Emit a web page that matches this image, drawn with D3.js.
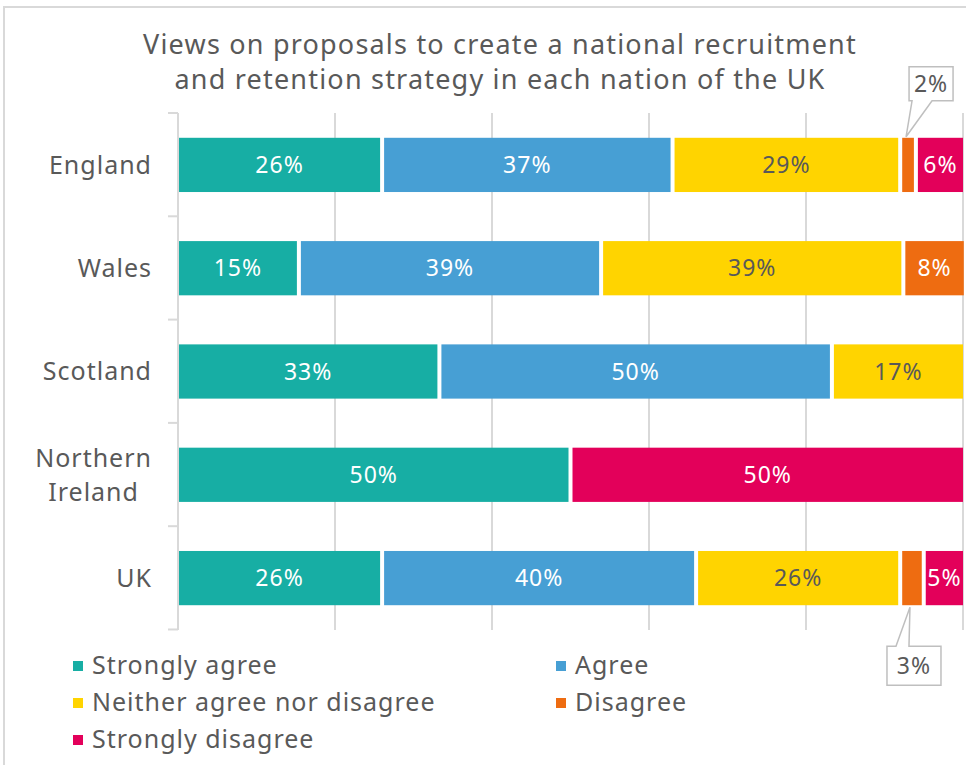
<!DOCTYPE html>
<html>
<head>
<meta charset="utf-8">
<script src="https://cdn.jsdelivr.net/npm/d3@7/dist/d3.min.js"></script>
<style>
  html, body { margin: 0; padding: 0; background: #fff; }
  svg { display: block; }
  text { font-family: "Noto Sans", "Open Sans", sans-serif; fill: #595959; letter-spacing: 1px; }
</style>
</head>
<body>
<svg id="chart" width="966" height="765"></svg>
<script>
// Survey responses (% of respondents) by nation
const nations = ["England", "Wales", "Scotland", "Northern Ireland", "UK"];
const responses = ["Strongly agree", "Agree", "Neither agree nor disagree", "Disagree", "Strongly disagree"];
const colors = ["#17AEA4", "#479FD4", "#FFD400", "#EE6C11", "#E3005A"];

const stronglyAgree    = [26, 15.4, 33.3, 50, 26];
const agree            = [37, 38.5, 50, 0, 40];
const neither          = [29, 38.5, 16.7, 0, 26];
const disagree         = [2, 7.7, 0, 0, 3];
const stronglyDisagree = [6, 0, 0, 50, 5];

const xTicks = [0, 20, 40, 60, 80, 100];
const titleLines = ["Views on proposals to create a national recruitment",
                    "and retention strategy in each nation of the UK"];

const series = [stronglyAgree, agree, neither, disagree, stronglyDisagree];
const rows = nations.map((n, i) => {
  const r = { nation: n };
  responses.forEach((k, j) => r[k] = series[j][i]);
  return r;
});

const svg = d3.select("#chart");
const W = 966, H = 765;

// outer frame
svg.append("rect").attr("x", 4).attr("y", 7).attr("width", W + 10).attr("height", H + 10)
  .attr("fill", "none").attr("stroke", "#d9d9d9").attr("stroke-width", 2);

// title, one text element per line
svg.append("g").selectAll("text").data(titleLines).join("text")
  .attr("text-anchor", "middle").attr("font-size", 27).style("letter-spacing", "1.2px")
  .attr("x", 500).attr("y", (d, i) => 54 + i * 35).text(d => d);

const x = d3.scaleLinear().domain([0, 100]).range([178, 963]);
const y = d3.scaleBand().domain(nations).range([113, 630]).paddingInner(0.475).paddingOuter(0.24);

// vertical gridlines
svg.append("g").selectAll("line").data(xTicks.slice(1)).join("line")
  .attr("x1", d => x(d)).attr("x2", d => x(d))
  .attr("y1", 113).attr("y2", 630)
  .attr("stroke", "#d9d9d9").attr("stroke-width", 2);

// category axis with ticks at band boundaries
const step = y.step();
const boundaries = d3.range(nations.length + 1).map(i => y.range()[0] + i * step);
const ax = svg.append("g");
ax.append("line").attr("x1", x(0)).attr("x2", x(0)).attr("y1", y.range()[0]).attr("y2", y.range()[1])
  .attr("stroke", "#d9d9d9").attr("stroke-width", 2);
ax.selectAll("line.tick").data(boundaries).join("line").attr("class", "tick")
  .attr("x1", x(0) - 10).attr("x2", x(0)).attr("y1", d => d).attr("y2", d => d)
  .attr("stroke", "#d9d9d9").attr("stroke-width", 2);

// category labels (multi-line labels centred on their widest line)
nations.forEach(n => {
  const words = n.split(" ");
  const lines = words.length > 1 ? words : [n];
  const cy = y(n) + y.bandwidth() / 2;
  const lh = 34;
  const g = svg.append("g");
  lines.forEach((l, i) => {
    g.append("text").attr("font-size", 25).attr("text-anchor", "middle")
      .attr("x", 0).attr("y", cy + (i - (lines.length - 1) / 2) * lh).attr("dy", "0.35em").text(l);
  });
  const wMax = d3.max(g.selectAll("text").nodes(), nd => nd.getComputedTextLength());
  g.selectAll("text").attr("x", 152 - wMax / 2);
});

// stacked bars
const stack = d3.stack().keys(responses)(rows);
const textColor = ["#ffffff", "#ffffff", "#595959", "#ffffff", "#ffffff"];
stack.forEach((layer, j) => {
  const g = svg.append("g");
  layer.forEach((seg, i) => {
    const v = seg[1] - seg[0];
    if (v <= 0) return;
    const x0 = x(seg[0]) + (seg[0] === 0 ? 1 : 2);
    const x1 = x(seg[1]) - (seg[1] >= 99.9 ? 0 : 2);
    const yy = y(nations[i]);
    g.append("rect").attr("x", x0).attr("y", yy).attr("width", Math.max(0, x1 - x0))
      .attr("height", y.bandwidth()).attr("fill", colors[j]);
    if (v >= 4) {
      g.append("text").attr("x", (x0 + x1) / 2).attr("y", yy + y.bandwidth() / 2)
        .attr("dy", "0.36em").attr("text-anchor", "middle").attr("font-size", 23)
        .style("fill", textColor[j]).text(Math.round(v) + "%");
    }
  });
});

// callouts for the narrow "Disagree" segments
function callout(i, above) {
  const seg = stack[3][i];
  const v = seg[1] - seg[0];
  const tipX = x((seg[0] + seg[1]) / 2) - 2;
  const yy = y(nations[i]);
  const tipY = above ? yy - 1 : yy + y.bandwidth() + 2;
  const bw = 44, bh = 34;
  let bx, by, p;
  if (above) {
    bx = tipX + 3; by = tipY - 70;
    const b = by + bh;
    p = `M${bx},${by}H${bx + bw}V${b}H${tipX + 26}L${tipX},${tipY}L${tipX + 6},${b}H${bx}Z`;
  } else {
    bx = tipX - 23; by = tipY + 39;
    p = `M${bx},${by}H${tipX - 14}L${tipX},${tipY}L${tipX - 1},${by}H${bx + bw + 10}V${by + bh + 5}H${bx}Z`;
  }
  svg.append("path").attr("d", p).attr("fill", "#fff").attr("stroke", "#bfbfbf").attr("stroke-width", 1.5);
  const w = above ? bw : bw + 10;
  svg.append("text").attr("x", bx + w / 2).attr("y", by + (above ? bh : bh + 5) / 2).attr("dy", "0.36em")
    .attr("text-anchor", "middle").attr("font-size", 23).text(Math.round(v) + "%");
}
callout(0, true);
callout(4, false);

// legend
const legendPos = [[73, 665], [556, 665], [73, 702], [556, 702], [73, 739]];
responses.forEach((r, j) => {
  const [lx, ly] = legendPos[j];
  svg.append("rect").attr("x", lx).attr("y", ly - 4).attr("width", 10).attr("height", 10).attr("fill", colors[j]);
  svg.append("text").attr("x", lx + 19).attr("y", ly).attr("dy", "0.36em").attr("font-size", 25).text(r);
});
</script>
</body>
</html>
